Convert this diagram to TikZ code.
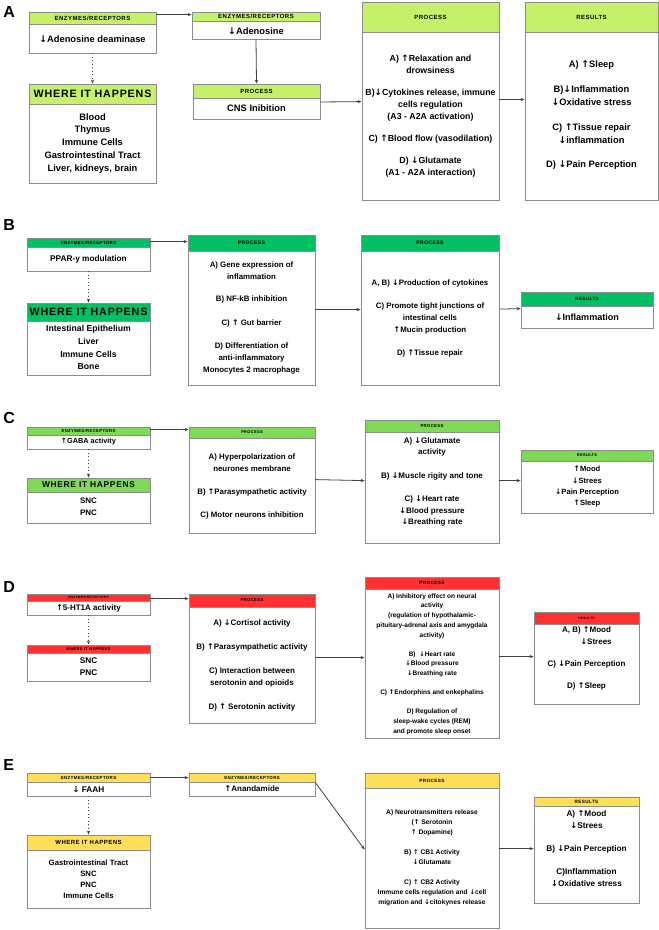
\documentclass[tikz,border=0pt]{standalone}
\usepackage{fontspec}
\setmainfont{Liberation Sans}
\newfontfamily\arrf{DejaVu Sans}
\usetikzlibrary{fit,calc,arrows.meta}
\newcommand\upa{{\arrf\char"2191}}
\newcommand\dna{{\arrf\char"2193}}
\newcommand\fsz[2]{\fontsize{#1}{#2}\selectfont\bfseries}
\definecolor{cA}{HTML}{C4F06A}
\definecolor{cB}{HTML}{00C063}
\definecolor{cC}{HTML}{7ED957}
\definecolor{cD}{HTML}{FF3131}
\definecolor{cE}{HTML}{FFDE59}
\tikzset{
  bx/.style={draw=black!45, line width=0.6pt},
  arr/.style={draw=black!75, line width=0.6pt, -{Stealth[length=3pt,width=2.4pt]}},
  dot/.style={arr, dotted},
  hd/.style={font=\addfontfeature{LetterSpace=8}\bfseries, inner sep=0},
  bd/.style={align=center, inner sep=0},
  lab/.style={font=\fontsize{12}{12}\selectfont\bfseries, anchor=west, inner sep=0}
}
% name, x1,y1,x2,y2,yh,color,headerfontsize,header
\newcommand\mybox[9]{%
  \node[fit={(#2,#3)(#4,#5)}, inner sep=0, bx, fill=white] (#1) {};
  \draw[bx, fill=#7] (#2,#3) rectangle (#4,#6);
  \node[hd, font=\fontsize{#8}{#8}\selectfont\addfontfeature{LetterSpace=8}\bfseries] (#1h) at ({(#2+#4)/2},{(#3+#6)/2}) {#9};
}
\begin{document}
\begin{tikzpicture}[x=0.75pt,y=-0.75pt]
\useasboundingbox (0,0) rectangle (659,930);
\fill[white] (0,0) rectangle (659,930);
%================ A
\node[lab] (LA) at (3,12) {A};
\mybox{aE}{29}{12}{156}{53}{24}{cA}{4.5}{ENZYMES/RECEPTORS}
\node[bd, font=\fsz{7}{9}] (aEt) at (92.5,39) {\dna Adenosine deaminase};
\mybox{aE2}{192}{12}{320}{39}{21}{cA}{4.5}{ENZYMES/RECEPTORS}
\node[bd, font=\fsz{7}{9}] (aE2t) at (256,31) {\dna Adenosine};
\mybox{aW}{29}{84}{156}{183}{104}{cA}{8}{WHERE IT HAPPENS}
\node[bd, font=\fsz{7}{9.7}] (aWt) at (92.5,143.5) {Blood\\Thymus\\Immune Cells\\Gastrointestinal Tract\\Liver, kidneys, brain};
\mybox{aP}{193}{84}{320}{119}{98}{cA}{4.5}{PROCESS}
\node[bd, font=\fsz{7}{9}] (aPt) at (256.5,108) {CNS Inibition};
\mybox{aP2}{362}{2}{499}{200}{32}{cA}{4.5}{PROCESS}
\node[bd, font=\fsz{6.6}{9}] (aP2t) at (430.5,116) {A) \upa Relaxation and\\drowsiness\\[7.5pt]
B)\dna Cytokines release, immune\\cells regulation\\(A3 - A2A activation)\\[7.5pt]
C) \upa Blood flow (vasodilation)\\[7.5pt]
D) \dna Glutamate\\(A1 - A2A interaction)};
\mybox{aR}{525}{2}{658}{200}{32}{cA}{4.5}{RESULTS}
\node[bd, font=\fsz{7}{9.6}] (aRt) at (591.5,115.5) {A) \upa Sleep\\[9pt]
B)\dna Inflammation\\\dna Oxidative stress\\[9pt]
C) \upa Tissue repair\\\dna inflammation\\[9pt]
D) \dna Pain Perception};
\draw[arr] ($(aE.north east)+(0,3)$) -- ($(aE2.north west)+(0,3)$);
\draw[arr] (aE2.south) -- (aP.north);
\draw[dot] (aE.south) -- (aW.north);
\draw[arr] ($(aP.east)+(0,0.5)$) -- ($(aP2.north west)+(0,100)$);
\draw[arr] ($(aP2.north east)+(0,98)$) -- ($(aR.north west)+(0,98)$);
%================ B
\node[lab] (LB) at (3,225) {B};
\mybox{bE}{27}{238}{150}{271}{247}{cB}{3.3}{ENZYMES/RECEPTORS}
\node[bd, font=\fsz{6.2}{9}] (bEt) at (88.5,259) {PPAR-y modulation};
\mybox{bW}{27}{303}{150}{375}{321}{cB}{8}{WHERE IT HAPPENS}
\node[bd, font=\fsz{6.5}{9.7}] (bWt) at (88.5,347.5) {Intestinal Epithelium\\Liver\\Immune Cells\\Bone};
\mybox{bP}{188}{235}{315}{385}{251}{cB}{3.8}{PROCESS}
\node[bd, font=\fsz{5.9}{9.3}] (bPt) at (251.5,318) {A) Gene expression of\\inflammation\\[7.5pt]
B) NF-kB inhibition\\[8pt]
C) \upa\ Gut barrier\\[8pt]
D) Differentiation of\\anti-inflammatory\\Monocytes 2 macrophage};
\mybox{bP2}{361}{235}{499}{385}{251}{cB}{3.8}{PROCESS}
\node[bd, font=\fsz{5.9}{8.7}] (bP2t) at (430,318.5) {A, B) \dna Production of cytokines\\[9pt]
C) Promote tight junctions of\\intestinal cells\\\upa Mucin production\\[9pt]
D) \upa Tissue repair};
\mybox{bR}{521}{292}{653}{328}{306}{cB}{3.5}{RESULTS}
\node[bd, font=\fsz{6.8}{9}] (bRt) at (587,317) {\dna Inflammation};
\draw[arr] ($(bE.north east)+(0,4)$) -- ($(bP.north west)+(0,7)$);
\draw[dot] (bE.south) -- (bW.north);
\draw[arr] ($(bP.north east)+(0,75)$) -- ($(bP2.north west)+(0,75)$);
\draw[arr] ($(bP2.north east)+(0,74.5)$) -- ($(bR.north west)+(0,17)$);
%================ C
\node[lab] (LC) at (3,418) {C};
\mybox{cE}{27}{427}{150}{449}{435}{cC}{3.2}{ENZYMES/RECEPTORS}
\node[bd, font=\fsz{5.5}{8}] (cEt) at (88.5,442) {\upa GABA activity};
\mybox{cW}{27}{478}{150}{523}{492}{cC}{6.3}{WHERE IT HAPPENS}
\node[bd, font=\fsz{6}{9}] (cWt) at (88.5,507) {SNC\\PNC};
\mybox{cP}{189}{427}{315}{533}{438}{cC}{3}{PROCESS}
\node[bd, font=\fsz{5.9}{8.8}] (cPt) at (252,486.5) {A) Hyperpolarization of\\neurones membrane\\[8.5pt]
B) \upa Parasympathetic activity\\[8.5pt]
C) Motor neurons inhibition};
\mybox{cP2}{365}{420}{499}{543}{432}{cC}{3.2}{PROCESS}
\node[bd, font=\fsz{6}{8.6}] (cP2t) at (432,482) {A) \dna Glutamate\\activity\\[9pt]
B) \dna Muscle rigity and tone\\[9pt]
C) \dna Heart rate\\\dna Blood pressure\\\dna Breathing rate};
\mybox{cR}{521}{450}{653}{513}{461}{cC}{3}{RESULTS}
\node[bd, font=\fsz{5.7}{8.5}] (cRt) at (587,487) {\upa Mood\\\dna Strees\\\dna Pain Perception\\\upa Sleep};
\draw[arr] ($(cE.north east)+(0,3)$) -- ($(cP.north west)+(0,3)$);
\draw[dot] (cE.south) -- (cW.north);
\draw[arr] ($(cP.north east)+(0,53)$) -- ($(cP2.north west)+(0,61)$);
\draw[arr] ($(cP2.north east)+(0,61)$) -- ($(cR.north west)+(0,31)$);
%================ D
\node[lab] (LD) at (3,587) {D};
\mybox{dE}{27}{594}{150}{615}{601}{cD}{2.4}{ENZYMES/RECEPTORS}
\node[bd, font=\fsz{6}{8}] (dEt) at (88.5,608.5) {\upa 5-HT1A activity};
\mybox{dW}{27}{645}{150}{681}{653}{cD}{3}{WHERE IT HAPPENS}
\node[bd, font=\fsz{6.2}{9}] (dWt) at (88.5,667) {SNC\\PNC};
\mybox{dP}{189}{594}{315}{723}{607}{cD}{3.2}{PROCESS}
\node[bd, font=\fsz{6}{9}] (dPt) at (252,665) {A) \dna Cortisol activity\\[9pt]
B) \upa Parasympathetic activity\\[9pt]
C) Interaction between\\serotonin and opioids\\[9pt]
D) \upa\ Serotonin activity};
\mybox{dP2}{365}{577}{499}{738}{589}{cD}{3.5}{PROCESS}
\node[bd, font=\fsz{4.9}{7.3}] (dP2t) at (432,664) {A) Inhibitory effect on neural\\activity\\(regulation of hypothalamic-\\pituitary-adrenal axis and amygdala\\activity)\\[7pt]
B) \ \dna Heart rate\\\dna Blood pressure\\\dna Breathing rate\\[7pt]
C) \upa Endorphins and enkephalins\\[7pt]
D) Regulation of\\sleep-wake cycles (REM)\\and promote sleep onset};
\mybox{dR}{534}{612}{639}{704}{624}{cD}{2.4}{RESULTS}
\node[bd, font=\fsz{6}{8.5}] (dRt) at (586.5,658.5) {A, B) \upa Mood\\\hspace{2.4em}\dna Strees\\[8pt]
C) \dna Pain Perception\\[8pt]
D) \upa Sleep};
\draw[arr] ($(dE.north east)+(0,5)$) -- ($(dP.north west)+(0,5)$);
\draw[dot] (dE.south) -- (dW.north);
\draw[arr] ($(dP.north east)+(0,64)$) -- ($(dP2.north west)+(0,81)$);
\draw[arr] ($(dP2.north east)+(0,80)$) -- ($(dR.north west)+(0,45)$);
%================ E
\node[lab] (LE) at (3,765) {E};
\mybox{eE}{27}{773}{150}{796}{782}{cE}{3.3}{ENZYMES/RECEPTORS}
\node[bd, font=\fsz{6.2}{8}] (eEt) at (88.5,789) {\dna\ FAAH};
\mybox{eE2}{189}{773}{315}{796}{782}{cE}{3.3}{ENZYMES/RECEPTORS}
\node[bd, font=\fsz{6}{8}] (eE2t) at (252,789) {\upa Anandamide};
\mybox{eW}{27}{835}{150}{908}{850}{cE}{4.5}{WHERE IT HAPPENS}
\node[bd, font=\fsz{5.8}{8.2}] (eWt) at (88.5,879.5) {Gastrointestinal Tract\\SNC\\PNC\\Immune Cells};
\mybox{eP}{365}{773}{499}{928}{788}{cE}{3.5}{PROCESS}
\node[bd, font=\fsz{5}{7.5}] (ePt) at (432,858) {A) Neurotransmitters release\\(\upa\ Serotonin\\\upa\ Dopamine)\\[7.5pt]
B) \upa\ CB1 Activity\\\dna Glutamate\\[7.5pt]
C) \upa\ CB2 Activity\\Immune cells regulation and \dna cell\\migration and \dna citokynes release};
\mybox{eR}{534}{797}{639}{903}{806}{cE}{3.5}{RESULTS}
\node[bd, font=\fsz{6.2}{9.4}] (eRt) at (586.5,848.5) {A) \upa Mood\\\dna Strees\\[7.5pt]
B) \dna Pain Perception\\[7.5pt]
C)Inflammation\\\dna Oxidative stress};
\draw[arr] ($(eE.north east)+(0,5)$) -- ($(eE2.north west)+(0,5)$);
\draw[dot] (eE.south) -- (eW.north);
\draw[arr] ($(eE2.north east)+(0,10)$) -- ($(eP.north west)+(0,77)$);
\draw[arr] ($(eP.north east)+(0,76)$) -- ($(eR.north west)+(0,52)$);
\end{tikzpicture}
\end{document}
